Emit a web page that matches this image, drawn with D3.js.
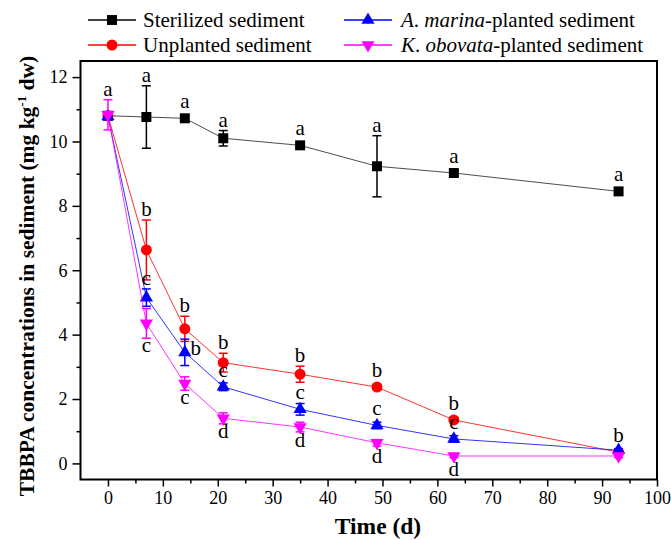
<!DOCTYPE html>
<meta charset="utf-8">
<style>
body { margin: 0; background: #fff; }
text { font-family: "Liberation Serif", "Times New Roman", serif; }
.axis text { font-size: 18px; fill: #000; }
.axis line { stroke: #000; stroke-width: 1.5px; }
.axis path { display: none; }
</style>
<svg width="671" height="540"></svg>
<script src="https://d3js.org/d3.v7.min.js"></script>
<script>

// sampling days
var days = [0, 7, 14, 21, 35, 49, 63, 93];

// TBBPA concentration (mg/kg dw), mean and error
var sterilized = [10.8, 10.76, 10.72, 10.1, 9.88, 9.23, 9.02, 8.45];
var sterilizedErr = [0.12, 0.97, 0.1, 0.24, 0.08, 0.95, 0.08, 0.08];
var unplanted = [10.8, 6.63, 4.18, 3.13, 2.77, 2.37, 1.35, 0.35];
var unplantedErr = [0.12, 0.93, 0.39, 0.29, 0.25, 0.08, 0.08, 0.05];
var marina = [10.78, 5.15, 3.45, 2.38, 1.68, 1.18, 0.76, 0.41];
var marinaErr = [0.1, 0.27, 0.41, 0.12, 0.18, 0.1, 0.1, 0.05];
var obovata = [10.83, 4.35, 2.48, 1.4, 1.13, 0.64, 0.23, 0.23];
var obovataErr = [0.47, 0.46, 0.21, 0.17, 0.15, 0.1, 0.05, 0.05];

// significance letters and where they sit
var sterilizedLetters = ["", "a", "a", "a", "a", "a", "a", "a"];
var unplantedLetters = ["", "b", "b", "b", "b", "b", "b", "b"];
var marinaLetters = ["", "c", "b", "c", "c", "c", "c", ""];
var marinaWhere = ["above", "above", "right", "above", "above", "above", "above", "above"];
var obovataLetters = ["a", "c", "c", "d", "d", "d", "d", ""];
var obovataWhere = ["above", "below", "below", "below", "below", "below", "below", "below"];

var xTicks = [0, 10, 20, 30, 40, 50, 60, 70, 80, 90, 100];
var xMinor = [5, 15, 25, 35, 45, 55, 65, 75, 85, 95];
var yTicks = [0, 2, 4, 6, 8, 10, 12];
var yMinor = [1, 3, 5, 7, 9, 11];

var series = [
  {name: "Sterilized sediment", values: sterilized, err: sterilizedErr, letters: sterilizedLetters, where: null, color: "#000", symbol: d3.symbolSquare, size: 100, rot: 0},
  {name: "Unplanted sediment", values: unplanted, err: unplantedErr, letters: unplantedLetters, where: null, color: "#ff0000", symbol: d3.symbolCircle, size: 95, rot: 0},
  {name: "A. marina-planted sediment", values: marina, err: marinaErr, letters: marinaLetters, where: marinaWhere, color: "#0000ff", symbol: d3.symbolTriangle, size: 75, rot: 0},
  {name: "K. obovata-planted sediment", values: obovata, err: obovataErr, letters: obovataLetters, where: obovataWhere, color: "#ff00ff", symbol: d3.symbolTriangle, size: 75, rot: 180}
];

var svg = d3.select("svg");
var plotL = 80.5, plotR = 657, plotT = 61, plotB = 479.5;

var x = d3.scaleLinear().domain([-5, 100]).range([plotL, plotR]);
var y = d3.scaleLinear().domain([-0.5, 12.5]).range([plotB, plotT]);

// axes
svg.append("g").attr("class", "axis")
    .attr("transform", "translate(0," + plotB + ")")
    .call(d3.axisBottom(x).tickValues(xTicks).tickSize(7).tickPadding(5));
svg.append("g").attr("class", "axis")
    .attr("transform", "translate(0," + plotB + ")")
    .call(d3.axisBottom(x).tickValues(xMinor).tickSize(4).tickFormat(""));
svg.append("g").attr("class", "axis")
    .attr("transform", "translate(" + plotL + ",0)")
    .call(d3.axisLeft(y).tickValues(yTicks).tickSize(8).tickPadding(5));
svg.append("g").attr("class", "axis")
    .attr("transform", "translate(" + plotL + ",0)")
    .call(d3.axisLeft(y).tickValues(yMinor).tickSize(4).tickFormat(""));

svg.selectAll(".axis text").attr("fill", "#000");

// frame
svg.append("rect")
    .attr("x", plotL).attr("y", plotT)
    .attr("width", plotR - plotL).attr("height", plotB - plotT)
    .attr("fill", "none").attr("stroke", "#000").attr("stroke-width", 2);

var line = d3.line()
    .x(function(d, i) { return x(days[i]); })
    .y(function(d) { return y(d); });

series.forEach(function(s) {
  var g = svg.append("g");

  g.append("path")
      .attr("d", line(s.values))
      .attr("fill", "none")
      .attr("stroke", s.color)
      .attr("stroke-opacity", s.color == "#000" ? 0.7 : 0.8)
      .attr("stroke-width", 1);

  // error bars
  var eb = g.selectAll(".eb").data(s.values).enter().append("g");
  eb.append("line")
      .attr("x1", function(d, i) { return x(days[i]); })
      .attr("x2", function(d, i) { return x(days[i]); })
      .attr("y1", function(d, i) { return y(d + s.err[i]); })
      .attr("y2", function(d, i) { return y(d - s.err[i]); })
      .attr("stroke", s.color).attr("stroke-width", 1.5);
  [1, -1].forEach(function(sign) {
    eb.append("line")
        .attr("x1", function(d, i) { return x(days[i]) - 4.5; })
        .attr("x2", function(d, i) { return x(days[i]) + 4.5; })
        .attr("y1", function(d, i) { return y(d + sign * s.err[i]); })
        .attr("y2", function(d, i) { return y(d + sign * s.err[i]); })
        .attr("stroke", s.color).attr("stroke-width", 1.5);
  });

  g.selectAll(".pt").data(s.values).enter().append("path")
      .attr("d", d3.symbol().type(s.symbol).size(s.size))
      .attr("transform", function(d, i) {
        return "translate(" + x(days[i]) + "," + y(d) + ") rotate(" + s.rot + ")";
      })
      .attr("fill", s.color);
});

// letters
series.forEach(function(s) {
  s.letters.forEach(function(l, i) {
    if (!l) return;
    var where = s.where ? s.where[i] : "above";
    var cx = x(days[i]), cy = y(s.values[i]);
    var tx = cx, ty;
    if (where == "above") ty = Math.min(y(s.values[i] + s.err[i]), cy - 6) - 4;
    else if (where == "below") ty = Math.max(y(s.values[i] - s.err[i]), cy + 6) + 14;
    else { tx = cx + 11; ty = cy + 3; }
    svg.append("text")
        .attr("x", tx).attr("y", ty)
        .attr("text-anchor", "middle")
        .style("font-size", "21px")
        .text(l);
  });
});

// axis titles
svg.append("text")
    .attr("x", 378).attr("y", 534)
    .attr("text-anchor", "middle")
    .style("font-size", "23.5px").style("font-weight", "bold")
    .text("Time (d)");

var yt = svg.append("text")
    .attr("transform", "translate(34,276) rotate(-90)")
    .attr("text-anchor", "middle")
    .style("font-size", "21.5px").style("font-weight", "bold");
yt.append("tspan").text("TBBPA concentrations in sediment (mg kg");
yt.append("tspan").attr("dy", -8).style("font-size", "13px").text("-1");
yt.append("tspan").attr("dy", 8).text(" dw)");

// legend
var legendPos = [[88, 20], [88, 45], [344, 20], [344, 45]];
series.forEach(function(s, k) {
  var p = legendPos[k];
  var lg = svg.append("g").attr("transform", "translate(" + p[0] + "," + p[1] + ")");
  lg.append("line").attr("x1", 0).attr("x2", 48)
      .attr("stroke", s.color).attr("stroke-width", 1.5);
  lg.append("path")
      .attr("d", d3.symbol().type(s.symbol).size(s.size))
      .attr("transform", "translate(24,0) rotate(" + s.rot + ")")
      .attr("fill", s.color);
  var t = lg.append("text").attr("x", k < 2 ? 55 : 57).attr("y", 7).style("font-size", "21px");
  if (k < 2) {
    t.text(s.name);
  } else {
    var parts = s.name.split(". ");
    var rest = parts[1].split("-");
    t.append("tspan").style("font-style", "italic").text(parts[0]);
    t.append("tspan").text(". ");
    t.append("tspan").style("font-style", "italic").text(rest[0]);
    t.append("tspan").text("-" + rest.slice(1).join("-"));
  }
});

</script>
